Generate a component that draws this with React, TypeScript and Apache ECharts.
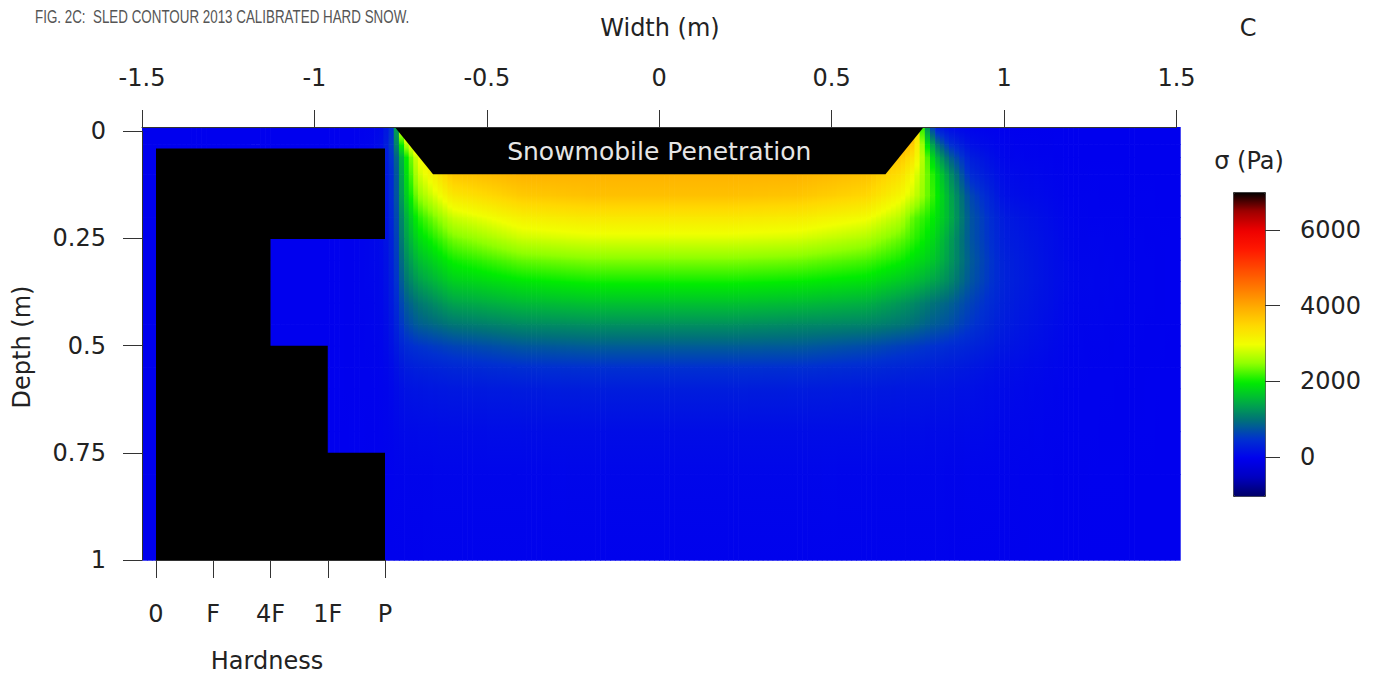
import React, { useEffect, useRef } from "react";
import * as echarts from "echarts";

// ---------- data ----------
// Width positions (m) of the sampled stress nodes
const widthNodes = [-1.5, -1.2, -1.0, -0.9, -0.84, -0.8, -0.77, -0.74, -0.7, -0.6, -0.4, -0.2, 0, 0.2, 0.4, 0.6, 0.7, 0.74, 0.77, 0.8, 0.84, 0.9, 1.0, 1.2, 1.51];
// Depth positions (m) of the sampled stress nodes
const depthNodes = [-0.01, 0.03, 0.06, 0.1, 0.15, 0.2, 0.25, 0.3, 0.35, 0.4, 0.45, 0.5, 0.55, 0.6, 0.7, 0.8, 1.0];
// Stress sigma (Pa), one row per depth node, one value per width node
const stressRows = [
  [0, 0, 0, 0, 20, 100, 600, 3800, 4000, 4000, 4000, 4000, 4000, 4000, 4000, 4000, 4000, 4000, 1500, 300, 100, 30, 0, 0, 0],
  [0, 0, 0, 0, 30, 150, 700, 2500, 3600, 4000, 4000, 4000, 4000, 4000, 4000, 4000, 4000, 3600, 2200, 1100, 500, 150, 30, 0, 0],
  [0, 0, 0, 10, 40, 200, 600, 1800, 3000, 3900, 3950, 3950, 3950, 3950, 3950, 3900, 3700, 3300, 2500, 1600, 900, 300, 50, 0, 0],
  [0, 0, 0, 10, 50, 180, 500, 1700, 2800, 3700, 3900, 3900, 3900, 3900, 3900, 3750, 3400, 3000, 2500, 2000, 1300, 450, 100, 10, 0],
  [0, 0, 0, 10, 50, 150, 500, 1600, 2500, 3300, 3650, 3750, 3750, 3750, 3700, 3500, 3100, 2800, 2450, 2100, 1500, 700, 150, 20, 0],
  [0, 0, 0, 10, 50, 130, 450, 1400, 2100, 2800, 3200, 3300, 3300, 3300, 3250, 3050, 2700, 2300, 2150, 1950, 1550, 800, 260, 30, 0],
  [0, 0, 0, 10, 50, 120, 400, 1300, 1850, 2400, 2800, 2900, 2900, 2900, 2850, 2650, 2350, 2150, 2000, 1800, 1400, 800, 300, 50, 0],
  [0, 0, 0, 10, 50, 100, 380, 1150, 1600, 2050, 2350, 2450, 2450, 2450, 2400, 2250, 2050, 1900, 1800, 1650, 1350, 850, 340, 60, 0],
  [0, 0, 0, 10, 45, 90, 350, 1000, 1350, 1750, 1950, 2050, 2050, 2050, 2000, 1900, 1700, 1600, 1500, 1380, 1200, 800, 350, 70, 0],
  [0, 0, 0, 10, 40, 80, 300, 800, 1050, 1400, 1580, 1650, 1650, 1650, 1600, 1500, 1300, 1200, 1100, 1000, 900, 650, 320, 60, 0],
  [0, 0, 0, 10, 35, 70, 250, 650, 850, 1050, 1200, 1250, 1250, 1250, 1200, 1150, 1050, 980, 900, 830, 750, 550, 280, 50, 0],
  [0, 0, 0, 10, 30, 60, 200, 430, 520, 650, 800, 850, 850, 850, 830, 720, 620, 580, 540, 500, 450, 380, 220, 40, 0],
  [0, 0, 0, 10, 25, 40, 130, 280, 330, 400, 480, 500, 500, 500, 490, 430, 380, 360, 340, 320, 290, 240, 140, 30, 0],
  [0, 0, 0, 10, 20, 30, 90, 180, 210, 250, 280, 300, 300, 300, 290, 260, 240, 230, 220, 210, 190, 160, 100, 25, 0],
  [0, 0, 0, 5, 10, 20, 50, 90, 100, 115, 125, 130, 130, 130, 130, 125, 120, 115, 110, 105, 100, 90, 60, 20, 0],
  [0, 0, 0, 5, 5, 10, 25, 40, 45, 50, 55, 60, 60, 60, 60, 55, 55, 50, 50, 50, 45, 40, 30, 10, 0],
  [0, 0, 0, 0, 0, 5, 10, 15, 15, 18, 20, 20, 20, 20, 20, 20, 20, 20, 20, 20, 15, 15, 10, 5, 0],
];

// Colour scale of sigma (Pa)
const stressMin = -1000;
const stressMax = 7000;
const stressColors = [
  "#000066", "#0000c0", "#0000ee", "#0030d0", "#00707a", "#00b040", "#00ec00", "#90ff00",
  "#f0ff00", "#ffd800", "#ffaa00", "#ff7800", "#ff4800", "#ff1800", "#ee0000", "#a00000", "#000000",
];
const colorbarTickMin = 0;
const colorbarTickMax = 6000;
const colorbarTickStep = 2000;

// Snowmobile penetration outline [width, depth]
const sledOutline = [
  [-0.767, -0.01],
  [0.767, -0.01],
  [0.656, 0.1],
  [-0.656, 0.1],
];
const sledLabel = "Snowmobile Penetration";

// Hardness profile
const hardnessLabels = ["0", "F", "4F", "1F", "P"];
const layerTop = [0.04, 0.25, 0.5, 0.75];
const layerBottom = [0.25, 0.5, 0.75, 1.0];
const layerHardness = ["P", "4F", "1F", "P"];

// Axis ranges
const widthTickMin = -1.5;
const widthTickMax = 1.5;
const widthTickStep = 0.5;
const depthTickMin = 0;
const depthTickMax = 1;
const depthTickStep = 0.25;

// ---------- colour helpers ----------
const stopRgb = stressColors.map((h) => {
  const n = parseInt(h.slice(1), 16);
  return [(n >> 16) & 255, (n >> 8) & 255, n & 255];
});
const stopStep = (stressMax - stressMin) / (stressColors.length - 1);

function colorOf(v: number): string {
  let t = ((v - stressMin) / (stressMax - stressMin)) * (stopRgb.length - 1);
  t = Math.max(0, Math.min(stopRgb.length - 1, t));
  const k = Math.min(stopRgb.length - 2, Math.floor(t));
  const f = t - k;
  const a = stopRgb[k];
  const b = stopRgb[k + 1];
  return `rgb(${Math.round(a[0] + (b[0] - a[0]) * f)},${Math.round(a[1] + (b[1] - a[1]) * f)},${Math.round(a[2] + (b[2] - a[2]) * f)})`;
}

function gradientStops(vt: number, vb: number) {
  const stops: { offset: number; color: string }[] = [{ offset: 0, color: colorOf(vt) }];
  if (vt !== vb) {
    const lo = Math.min(vt, vb);
    const hi = Math.max(vt, vb);
    for (let k = 0; k < stressColors.length; k++) {
      const c = stressMin + k * stopStep;
      if (c > lo && c < hi) stops.push({ offset: (c - vt) / (vb - vt), color: colorOf(c) });
    }
  }
  stops.push({ offset: 1, color: colorOf(vb) });
  stops.sort((a, b) => a.offset - b.offset);
  return stops;
}

// ---------- series data ----------
const fieldData: number[][] = [];
for (let j = 0; j < depthNodes.length - 1; j++) {
  for (let i = 0; i < widthNodes.length - 1; i++) {
    fieldData.push([widthNodes[i], depthNodes[j], stressRows[j][i], i, j]);
  }
}
const layerData = layerTop.map((t, k) => [hardnessLabels.indexOf(layerHardness[k]), t, layerBottom[k]]);

const FONT = "DejaVu Sans";
const axisColor = "#333";

function renderField(params: any, api: any) {
  const i = api.value(3);
  const j = api.value(4);
  const pA = api.coord([widthNodes[i], depthNodes[j]]);
  const pB = api.coord([widthNodes[i + 1], depthNodes[j + 1]]);
  const w = pB[0] - pA[0];
  const h = pB[1] - pA[1];
  const v00 = stressRows[j][i];
  const v10 = stressRows[j][i + 1];
  const v01 = stressRows[j + 1][i];
  const v11 = stressRows[j + 1][i + 1];
  const n = Math.max(1, Math.round(w / 5));
  const children: any[] = [];
  for (let k = 0; k < n; k++) {
    const s = (k + 0.5) / n;
    const vt = v00 + (v10 - v00) * s;
    const vb = v01 + (v11 - v01) * s;
    children.push({
      type: "rect",
      shape: { x: pA[0] + (w * k) / n, y: pA[1], width: w / n + 0.7, height: h + 0.7 },
      style: { fill: { type: "linear", x: 0, y: 0, x2: 0, y2: 1, colorStops: gradientStops(vt, vb) } },
      silent: true,
    });
  }
  return { type: "group", children };
}

function renderSled(params: any, api: any) {
  if (params.dataIndex !== 0) return null;
  const pts = sledOutline.map((p) => api.coord(p));
  const cx = pts.reduce((s, p) => s + p[0], 0) / pts.length;
  const cy = pts.reduce((s, p) => s + p[1], 0) / pts.length;
  return {
    type: "group",
    children: [
      { type: "polygon", shape: { points: pts }, style: { fill: "#000" } },
      {
        type: "text",
        x: cx,
        y: cy + 1,
        style: {
          text: sledLabel,
          fill: "#e6e6e6",
          fontSize: 25,
          fontFamily: FONT,
          align: "center",
          verticalAlign: "middle",
          textAlign: "center",
          textVerticalAlign: "middle",
        },
      },
    ],
  };
}

function renderLayer(params: any, api: any) {
  const p0 = api.coord([0, api.value(1)]);
  const p1 = api.coord([api.value(0), api.value(2)]);
  return {
    type: "rect",
    shape: { x: p0[0], y: p0[1], width: p1[0] - p0[0], height: p1[1] - p0[1] + 0.6 },
    style: { fill: "#000" },
  };
}

const labelStyle = { fontSize: 24, fontFamily: FONT, color: "#222" };
const lineStyle = { color: axisColor, width: 1 };

function textEl(text: string, x: number, y: number, extra: any = {}, font: any = {}) {
  return {
    type: "text",
    x,
    y,
    ...extra,
    style: {
      text,
      fill: "#222",
      fontSize: 24,
      fontFamily: FONT,
      align: "center",
      verticalAlign: "middle",
      textAlign: "center",
      textVerticalAlign: "middle",
      ...font,
    },
  };
}

const option: any = {
  animation: false,
  backgroundColor: "#ffffff",
  grid: [
    { left: 142, top: 127, width: 1038, height: 433 },
    { left: 142, top: 131, width: 1034.5, height: 429 },
    { left: 156, top: 127, width: 229, height: 433 },
    { left: 1233, top: 230, width: 32, height: 227 },
  ],
  xAxis: [
    { gridIndex: 0, type: "value", min: -1.5, max: 1.51, show: false },
    {
      gridIndex: 1,
      type: "value",
      position: "top",
      offset: 4,
      min: widthTickMin,
      max: widthTickMax,
      interval: widthTickStep,
      z: 10,
      axisLine: { show: true, onZero: false, lineStyle },
      axisTick: { show: true, length: 17, inside: false, lineStyle },
      axisLabel: { ...labelStyle, margin: 37 },
      splitLine: { show: false },
    },
    {
      gridIndex: 2,
      type: "value",
      position: "bottom",
      min: 0,
      max: hardnessLabels.length - 1,
      interval: 1,
      z: 10,
      axisLine: { show: true, onZero: false, lineStyle },
      axisTick: { show: true, length: 18, inside: false, lineStyle },
      axisLabel: { ...labelStyle, margin: 42, formatter: (v: number) => hardnessLabels[Math.round(v)] ?? "" },
      splitLine: { show: false },
    },
    { gridIndex: 3, type: "value", show: false, axisLine: { onZero: false } },
  ],
  yAxis: [
    { gridIndex: 0, type: "value", min: -0.01, max: 1, inverse: true, show: false, axisLine: { onZero: false } },
    {
      gridIndex: 1,
      type: "value",
      position: "left",
      inverse: true,
      min: depthTickMin,
      max: depthTickMax,
      interval: depthTickStep,
      z: 10,
      axisLine: { show: true, onZero: false, lineStyle },
      axisTick: { show: true, length: 19, inside: false, lineStyle },
      axisLabel: { ...labelStyle, margin: 36 },
      splitLine: { show: false },
    },
    { gridIndex: 2, type: "value", min: -0.01, max: 1, inverse: true, show: false, axisLine: { onZero: false } },
    {
      gridIndex: 3,
      type: "value",
      position: "right",
      min: colorbarTickMin,
      max: colorbarTickMax,
      interval: colorbarTickStep,
      z: 10,
      axisLine: { show: false, onZero: false },
      axisTick: { show: true, length: 15, inside: false, lineStyle },
      axisLabel: { ...labelStyle, margin: 35, formatter: (v: number) => String(v) },
      splitLine: { show: false },
    },
  ],
  visualMap: {
    type: "continuous",
    min: stressMin,
    max: stressMax,
    seriesIndex: 0,
    dimension: 2,
    calculable: false,
    left: 1233,
    top: 192,
    itemWidth: 32,
    itemHeight: 304,
    padding: 0,
    borderColor: "#333",
    borderWidth: 1,
    inRange: { color: stressColors },
  },
  graphic: [
    {
      type: "text",
      x: 35,
      y: 16,
      scaleX: 0.705,
      style: {
        text: "FIG. 2C:  SLED CONTOUR 2013 CALIBRATED HARD SNOW.",
        fill: "#555",
        fontSize: 19,
        fontFamily: "Liberation Sans",
        align: "left",
        verticalAlign: "middle",
        textAlign: "left",
        textVerticalAlign: "middle",
      },
    },
    textEl("Width (m)", 660, 28),
    textEl("C", 1248, 28),
    textEl("Depth (m)", 22, 347, { rotation: Math.PI / 2 }),
    textEl("Hardness", 267, 661),
    textEl("σ (Pa)", 1249, 161),
  ],
  series: [
    {
      type: "custom",
      xAxisIndex: 0,
      yAxisIndex: 0,
      data: fieldData,
      encode: { x: 0, y: 1 },
      renderItem: renderField,
      silent: true,
      z: 1,
    },
    {
      type: "custom",
      xAxisIndex: 0,
      yAxisIndex: 0,
      data: sledOutline,
      encode: { x: 0, y: 1 },
      renderItem: renderSled,
      silent: true,
      z: 3,
    },
    {
      type: "custom",
      xAxisIndex: 2,
      yAxisIndex: 2,
      data: layerData,
      encode: { x: 0, y: [1, 2] },
      renderItem: renderLayer,
      silent: true,
      z: 3,
    },
  ],
};

export default function App() {
  const ref = useRef<HTMLDivElement>(null);
  useEffect(() => {
    if (!ref.current) return;
    const chart = echarts.init(ref.current, null, { renderer: "svg" });
    chart.setOption(option);
    return () => chart.dispose();
  }, []);
  return (
    <div
      ref={ref}
      style={{ position: "fixed", left: 0, top: 0, width: 1383, height: 678, background: "#fff" }}
    />
  );
}
